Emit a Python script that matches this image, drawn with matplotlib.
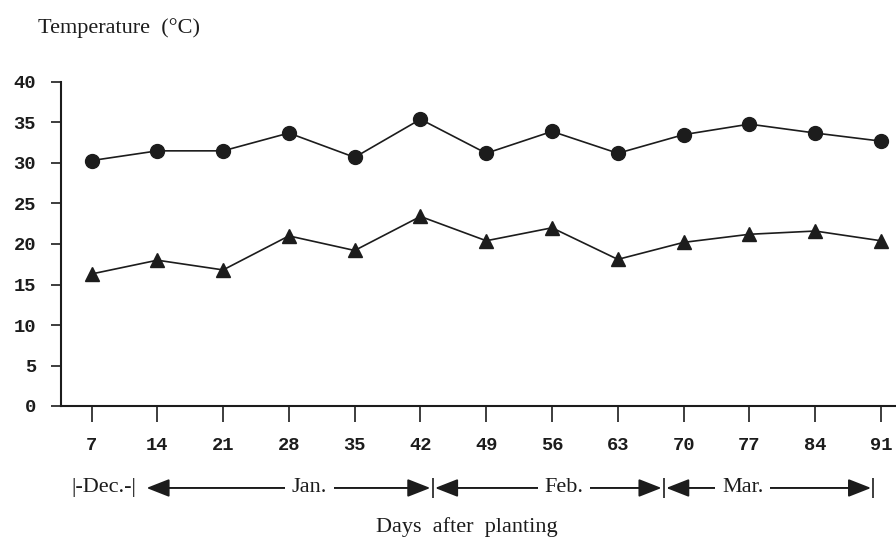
import numpy as np
import matplotlib
matplotlib.use('Agg')
import matplotlib.pyplot as plt

days = [7, 14, 21, 28, 35, 42, 49, 56, 63, 70, 77, 84, 91]
t_max = [30.3, 31.5, 31.5, 33.7, 30.7, 35.4, 31.2, 33.9, 31.2, 33.5, 34.8, 33.7, 32.7]
t_min = [16.3, 18.0, 16.8, 21.0, 19.2, 23.4, 20.4, 22.0, 18.1, 20.2, 21.2, 21.6, 20.4]
y_ticks = [0, 5, 10, 15, 20, 25, 30, 35, 40]

months = ['Jan.', 'Feb.', 'Mar.']
month_edges = [12.6, 43.3, 67.9, 90.2]
month_text_x = [30.2, 57.3, 76.3]
dec_x = 8.3

ink = '#1c1c1c'
serif = ['Liberation Serif', 'DejaVu Serif']
num_font = ['Liberation Mono', 'DejaVu Sans Mono']

fig = plt.figure(figsize=(8.96, 5.43), dpi=100)
ax = fig.add_axes([61 / 896, 1 - 406 / 543, 1 - 61 / 896, 324 / 543])

ax.plot(days, t_max, color=ink, lw=1.2, marker='o', ms=10, mfc=ink, mec=ink, clip_on=False)
ax.plot(days, t_min, color=ink, lw=1.2, marker='^', ms=9.5, mfc=ink, mec=ink, clip_on=False)

ax.set_xlim(3.75, 92.6)
ax.set_ylim(0, 40)
ax.set_xticks(days)
ax.set_yticks(y_ticks)
ax.set_xticklabels([str(d) for d in days], fontfamily=num_font, fontsize=13.5, fontweight='bold')
ax.set_yticklabels([str(v) for v in y_ticks], fontfamily=num_font, fontsize=13.5, fontweight='bold')
ax.tick_params(axis='x', direction='out', length=11.5, width=1.2, pad=11, colors=ink)
ax.tick_params(axis='y', direction='out', length=7, width=1.2, pad=11, colors=ink)

for s in ['top', 'right']:
    ax.spines[s].set_visible(False)
for s in ['left', 'bottom']:
    ax.spines[s].set_linewidth(1.5)
    ax.spines[s].set_color(ink)

# month bands under the x axis
tr = ax.get_xaxis_transform()
yb = -0.253
ax.text(dec_x, yb, '|-Dec.-|', transform=tr, ha='center', va='center',
        fontfamily=serif, fontsize=16, color=ink, clip_on=False)
for i, m in enumerate(months):
    x0 = month_edges[i] + 0.25
    x1 = month_edges[i + 1] - 0.25
    ax.annotate('', xy=(x0, yb), xytext=(x1, yb), xycoords=tr, textcoords=tr,
                arrowprops=dict(arrowstyle='<|-|>,head_length=1.4,head_width=0.55',
                                mutation_scale=10, color=ink, lw=1.4,
                                shrinkA=0, shrinkB=0),
                annotation_clip=False)
    ax.text(month_text_x[i], yb, m, transform=tr, ha='center', va='center',
            fontfamily=serif, fontsize=16, color=ink, clip_on=False,
            bbox=dict(boxstyle='square,pad=0.3', fc='white', ec='none'))
ax.plot(month_edges[1:], [yb] * 3, transform=tr, ls='none', marker='|',
        ms=14, mew=1.2, color=ink, clip_on=False)

fig.text(38 / 896, 1 - 28 / 543, 'Temperature  (°C)', ha='left', va='center',
         fontfamily=serif, fontsize=16, color=ink)
fig.text(467 / 896, 1 - 527 / 543, 'Days  after  planting', ha='center', va='center',
         fontfamily=serif, fontsize=16, color=ink)

fig.savefig('out.png', dpi=100)
